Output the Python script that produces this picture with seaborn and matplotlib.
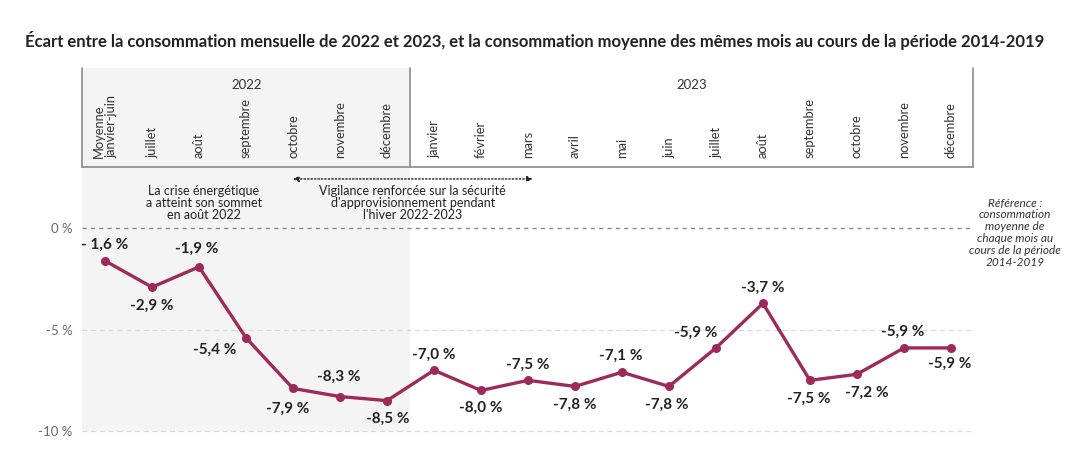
import numpy as np
import pandas as pd
import matplotlib
matplotlib.use("Agg")
import matplotlib.pyplot as plt
import seaborn as sns

# ── Données ──────────────────────────────────────────────────
mois = ["Moyenne\njanvier-juin", "juillet", "août", "septembre", "octobre",
        "novembre", "décembre", "janvier", "février", "mars", "avril", "mai",
        "juin", "juillet", "août", "septembre", "octobre", "novembre", "décembre"]
ecart = [-1.6, -2.9, -1.9, -5.4, -7.9, -8.3, -8.5, -7.0, -8.0, -7.5, -7.8,
         -7.1, -7.8, -5.9, -3.7, -7.5, -7.2, -5.9, -5.9]
etiquettes = ["- 1,6 %", "-2,9 %", "-1,9 %", "-5,4 %", "-7,9 %", "-8,3 %",
              "-8,5 %", "-7,0 %", "-8,0 %", "-7,5 %", "-7,8 %", "-7,1 %",
              "-7,8 %", "-5,9 %", "-3,7 %", "-7,5 %", "-7,2 %", "-5,9 %", "-5,9 %"]
annees = ["2022", "2023"]
n_2022 = 7
yticks = [0, -5, -10]
ytick_labels = ["0 %", "-5 %", "-10 %"]

# décalage des étiquettes (pixels)
offsets = [(0, 16), (0, -19), (-2, 18), (-31, -12), (-5, -20), (-1, 20),
           (1, -18), (0, 15), (0, -17), (0, 16), (0, -18), (-1, 16),
           (-2, -18), (-20, 15), (0, 16), (-1, -18), (10, -19), (-1, 16),
           (-1, -16)]

df = pd.DataFrame({"pos": np.arange(len(ecart)), "ecart": ecart})

sns.set_style("white")
plt.rcParams["font.family"] = ["Lato", "DejaVu Sans"]

W, H = 1090, 467
fig = plt.figure(figsize=(W / 100, H / 100), dpi=100)


def rect(l, t, r, b):
    return [l / W, 1 - b / H, (r - l) / W, (b - t) / H]


COL = "#9e2a5b"
GRIS = "#f4f4f4"
XLIM = (-0.49, 18.47)

ax = fig.add_axes(rect(82, 167, 973, 431))
hx = fig.add_axes(rect(82, 68, 973, 167))

# ── Graphique principal ─────────────────────────────────────
ax.axvspan(XLIM[0], n_2022 - 0.5, color=GRIS, zorder=0, lw=0)
for v in yticks[1:]:
    ax.axhline(v, color="#d9d9d9", lw=0.9, ls=(0, (4, 3)), zorder=1, clip_on=False)
ax.axhline(0, color="#8a8a8a", lw=1.0, ls=(0, (3, 3)), zorder=1)

sns.lineplot(data=df, x="pos", y="ecart", ax=ax, color=COL, lw=2.4,
             marker="o", markersize=6.5, markeredgewidth=0, zorder=3)

for i, (v, lab) in enumerate(zip(ecart, etiquettes)):
    ax.annotate(lab, (i, v), xytext=offsets[i], textcoords="offset pixels",
                ha="center", va="center", fontsize=11, fontweight="bold",
                color="#222222")

ax.set_xlim(XLIM)
ax.set_ylim(-10, 3.03)
ax.set_yticks(yticks)
ax.set_yticklabels(ytick_labels, color="#666666", fontsize=9.5)
ax.tick_params(axis="y", length=0, pad=7)
ax.set_xticks([])
ax.set_xlabel("")
ax.set_ylabel("")
sns.despine(ax=ax, left=True, bottom=True)

# annotations
ax.text(2.1, 1.26, "La crise énergétique\na atteint son sommet\nen août 2022",
        ha="center", va="center", fontsize=9, color="#222222", linespacing=0.98)
ax.text(6.55, 1.26, "Vigilance renforcée sur la sécurité\nd'approvisionnement pendant\nl'hiver 2022-2023",
        ha="center", va="center", fontsize=9, color="#222222", linespacing=0.98)
ax.annotate("", xy=(4.0, 2.44), xytext=(9.1, 2.44),
            arrowprops=dict(arrowstyle="<|-|>", ls=(0, (1, 1.5)), lw=1.0,
                            color="#222222", mutation_scale=8,
                            shrinkA=0, shrinkB=0))
ax.text(19.36, -0.22, "Référence :\nconsommation\nmoyenne de\nchaque mois au\ncours de la période\n2014-2019",
        ha="center", va="center", fontsize=8.5, style="italic",
        color="#333333", linespacing=1.1, clip_on=False)

# ── En-tête des mois ────────────────────────────────────────
hx.axvspan(XLIM[0], n_2022 - 0.5, color=GRIS, zorder=0, lw=0)
hx.set_xlim(XLIM)
hx.set_ylim(0, 1)
hx.set_xticks([])
hx.set_yticks([])
for s in ["top", "right", "left", "bottom"]:
    hx.spines[s].set_visible(False)
ligne = dict(color="#8a8a8a", lw=1.2, clip_on=False)
hx.plot([XLIM[0], XLIM[1]], [0, 0], **ligne)
hx.plot([XLIM[0], XLIM[0]], [0, 1], **ligne)
hx.plot([XLIM[1], XLIM[1]], [0, 1], **ligne)
hx.plot([n_2022 - 0.5, n_2022 - 0.5], [0, 1], **ligne)

for i, m in enumerate(mois):
    hx.text(i, 0.09, m, rotation=90, ha="center", va="bottom",
            multialignment="left", fontsize=9.3, color="#333333", linespacing=1.1)
hx.text((XLIM[0] + n_2022 - 0.5) / 2, 0.83, annees[0], ha="center", va="center",
        fontsize=9.5, color="#333333")
hx.text((n_2022 - 0.5 + XLIM[1]) / 2, 0.83, annees[1], ha="center", va="center",
        fontsize=9.5, color="#333333")

fig.text(535 / W, 1 - 40 / H,
         "Écart entre la consommation mensuelle de 2022 et 2023, et la consommation moyenne des mêmes mois au cours de la période 2014-2019",
         ha="center", va="center", fontsize=12, fontweight="bold", color="#222222")

fig.savefig("out.png", dpi=100, facecolor="white")
